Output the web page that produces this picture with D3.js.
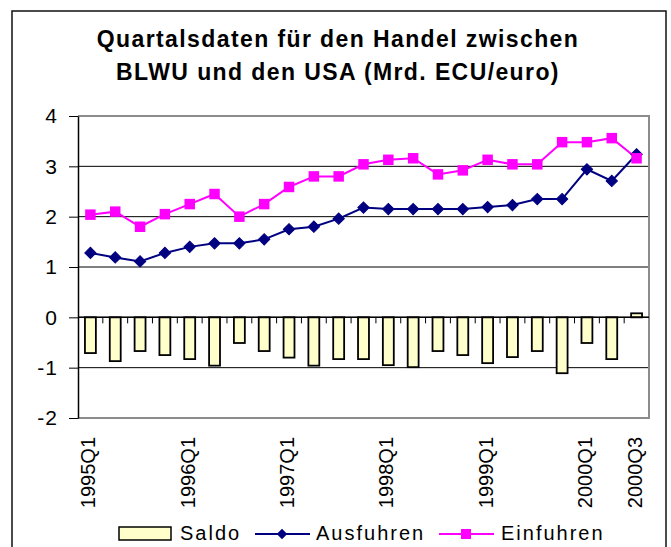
<!DOCTYPE html>
<html>
<head>
<meta charset="utf-8">
<script src="https://cdn.jsdelivr.net/npm/d3@7"></script>
<style>
  body { margin: 0; background: #fff; }
  svg { display: block; font-family: "Liberation Sans", Arial, sans-serif; }
</style>
</head>
<body>
<div id="chart"></div>
<script>
// quarters 1995Q1 .. 2000Q3
const quarters = [
  "1995Q1", "1995Q2", "1995Q3", "1995Q4",
  "1996Q1", "1996Q2", "1996Q3", "1996Q4",
  "1997Q1", "1997Q2", "1997Q3", "1997Q4",
  "1998Q1", "1998Q2", "1998Q3", "1998Q4",
  "1999Q1", "1999Q2", "1999Q3", "1999Q4",
  "2000Q1", "2000Q2", "2000Q3"
]
const tickLabels = ["1995Q1", "1996Q1", "1997Q1", "1998Q1", "1999Q1", "2000Q1", "2000Q3"]
const yTicks = [-2, -1, 0, 1, 2, 3, 4]

const saldo = [-0.71, -0.87, -0.67, -0.75, -0.83, -0.96, -0.51, -0.67, -0.80, -0.96, -0.83, -0.83,
               -0.95, -0.99, -0.67, -0.75, -0.91, -0.79, -0.67, -1.11, -0.51, -0.83, 0.08]
const ausfuhren = [1.28, 1.19, 1.11, 1.28, 1.40, 1.47, 1.47, 1.55, 1.75, 1.80, 1.96, 2.18,
                   2.15, 2.15, 2.15, 2.15, 2.19, 2.23, 2.35, 2.35, 2.94, 2.71, 3.24]
const einfuhren = [2.04, 2.10, 1.80, 2.05, 2.25, 2.45, 2.00, 2.25, 2.59, 2.80, 2.80, 3.04,
                   3.13, 3.16, 2.84, 2.92, 3.13, 3.04, 3.04, 3.48, 3.48, 3.56, 3.16]

const titleLines = ["Quartalsdaten für den Handel zwischen", "BLWU und den USA (Mrd. ECU/euro)"]

const W = 671, H = 547
const plot = { left: 78, right: 649, top: 116, bottom: 418 }

const svg = d3.select("#chart").append("svg")
    .attr("width", W)
    .attr("height", H)

svg.append("rect").attr("width", W).attr("height", H).attr("fill", "#fff")

// outer frame of the chart
svg.append("rect")
    .attr("x", 12).attr("y", 11)
    .attr("width", 654).attr("height", 560)
    .attr("fill", "none")
    .attr("stroke", "#111")
    .attr("stroke-width", 1.5)

// title
svg.append("g")
    .selectAll("text")
    .data(titleLines)
    .join("text")
    .attr("x", 338)
    .attr("y", (d, i) => 47 + i * 33)
    .attr("text-anchor", "middle")
    .attr("font-size", 23)
    .attr("font-weight", "bold")
    .attr("letter-spacing", 1.4)
    .text(d => d)

const x = d3.scaleBand().domain(quarters).range([plot.left, plot.right])
const y = d3.scaleLinear().domain([-2, 4]).range([plot.bottom, plot.top])
const cx = q => x(q) + x.bandwidth() / 2

// gridlines
svg.append("g")
    .selectAll("line")
    .data(yTicks.filter(v => v > -2 && v < 4))
    .join("line")
    .attr("x1", plot.left).attr("x2", plot.right)
    .attr("y1", d => y(d)).attr("y2", d => y(d))
    .attr("stroke", "#000")
    .attr("stroke-width", 1)

// plot border (top / right / bottom)
svg.append("path")
    .attr("d", `M${plot.left},${y(4)}H${plot.right}V${y(-2)}H${plot.left}`)
    .attr("fill", "none")
    .attr("stroke", "#8c8c8c")
    .attr("stroke-width", 2)

// y axis
const yAxis = svg.append("g")
    .attr("transform", `translate(${plot.left},0)`)
    .call(d3.axisLeft(y).tickValues(yTicks).tickSizeInner(9).tickSizeOuter(0).tickPadding(11).tickFormat(d => String(d)))
yAxis.select(".domain").attr("stroke", "#000").attr("stroke-width", 1.5)
yAxis.selectAll(".tick line").attr("stroke", "#000")
yAxis.selectAll("text")
    .attr("font-size", 21)
    .attr("letter-spacing", 1)
    .attr("fill", "#000")
    .attr("font-family", "'Liberation Sans', Arial, sans-serif")

// bars
svg.append("g")
    .selectAll("rect")
    .data(saldo)
    .join("rect")
    .attr("x", (d, i) => cx(quarters[i]) - x.bandwidth() * 0.22)
    .attr("width", x.bandwidth() * 0.44)
    .attr("y", d => y(Math.max(0, d)))
    .attr("height", d => Math.abs(y(d) - y(0)))
    .attr("fill", "#ffffcc")
    .attr("stroke", "#000")
    .attr("stroke-width", 1.8)

// category axis along zero
svg.append("line")
    .attr("x1", plot.left).attr("x2", plot.right)
    .attr("y1", y(0)).attr("y2", y(0))
    .attr("stroke", "#000")
    .attr("stroke-width", 1.5)
svg.append("g")
    .selectAll("line")
    .data(quarters.slice(1))
    .join("line")
    .attr("x1", d => x(d)).attr("x2", d => x(d))
    .attr("y1", y(0)).attr("y2", y(0) + 6)
    .attr("stroke", "#000")

// category labels
svg.append("g")
    .selectAll("text")
    .data(tickLabels)
    .join("text")
    .attr("transform", d => `translate(${cx(d) + 5},437) rotate(-90)`)
    .attr("text-anchor", "end")
    .attr("font-size", 20)
    .text(d => d)

// lines
const line = d3.line().x((d, i) => cx(quarters[i])).y(d => y(d))

svg.append("path")
    .datum(ausfuhren)
    .attr("d", line)
    .attr("fill", "none")
    .attr("stroke", "#000080")
    .attr("stroke-width", 2)

svg.append("path")
    .datum(einfuhren)
    .attr("d", line)
    .attr("fill", "none")
    .attr("stroke", "#ff00ff")
    .attr("stroke-width", 2)

const square = d3.symbol().type(d3.symbolSquare).size(110)

svg.append("g")
    .selectAll("path")
    .data(ausfuhren)
    .join("path")
    .attr("transform", (d, i) => `translate(${cx(quarters[i])},${y(d)}) rotate(45)`)
    .attr("d", d3.symbol().type(d3.symbolSquare).size(64))
    .attr("fill", "#000080")
    .attr("stroke", "#000080")

svg.append("g")
    .selectAll("path")
    .data(einfuhren)
    .join("path")
    .attr("transform", (d, i) => `translate(${cx(quarters[i])},${y(d)})`)
    .attr("d", square)
    .attr("fill", "#ff00ff")

// legend
const legend = svg.append("g").attr("font-size", 20).attr("letter-spacing", 2)
legend.append("rect")
    .attr("x", 119).attr("y", 527)
    .attr("width", 52).attr("height", 13)
    .attr("fill", "#ffffcc")
    .attr("stroke", "#000")
    .attr("stroke-width", 1.5)
legend.append("text").attr("x", 180).attr("y", 540).text("Saldo")

legend.append("line")
    .attr("x1", 255).attr("x2", 310).attr("y1", 534).attr("y2", 534)
    .attr("stroke", "#000080").attr("stroke-width", 2)
legend.append("path")
    .attr("transform", "translate(282,534) rotate(45)")
    .attr("d", d3.symbol().type(d3.symbolSquare).size(55))
    .attr("fill", "#000080")
legend.append("text").attr("x", 316).attr("y", 540).text("Ausfuhren")

legend.append("line")
    .attr("x1", 439).attr("x2", 494).attr("y1", 534).attr("y2", 534)
    .attr("stroke", "#ff00ff").attr("stroke-width", 2)
legend.append("path")
    .attr("transform", "translate(466,534)")
    .attr("d", d3.symbol().type(d3.symbolSquare).size(100))
    .attr("fill", "#ff00ff")
legend.append("text").attr("x", 501).attr("y", 540).text("Einfuhren")
</script>
</body>
</html>
